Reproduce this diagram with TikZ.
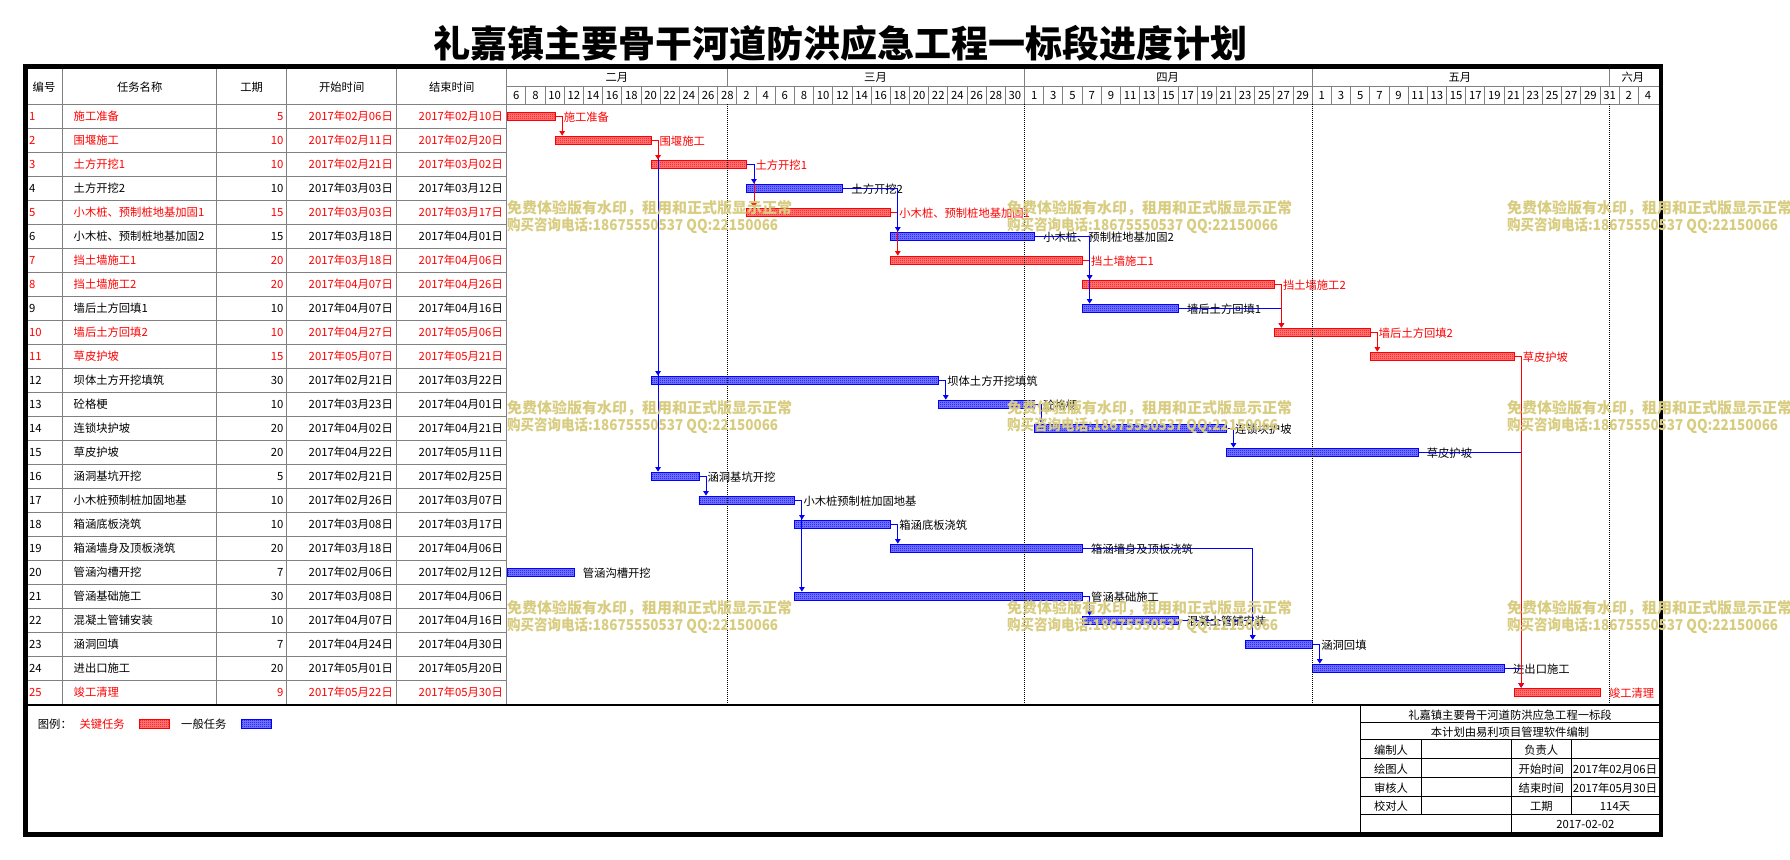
\documentclass[tikz,border=0pt]{standalone}
\usepackage{fontspec}
\setmainfont{Noto Sans CJK SC}
\newfontfamily\wmnarrow{Noto Sans CJK SC}[FakeStretch=0.9]
\usetikzlibrary{arrows.meta,patterns,calc}
\definecolor{wmcolor}{RGB}{216,204,128}
\pgfdeclarepatternformonly{fchecker}{\pgfqpoint{0pt}{0pt}}{\pgfqpoint{2pt}{2pt}}{\pgfqpoint{2pt}{2pt}}{%
  \pgfpathrectangle{\pgfqpoint{0pt}{0pt}}{\pgfqpoint{1pt}{1pt}}%
  \pgfpathrectangle{\pgfqpoint{1pt}{1pt}}{\pgfqpoint{1pt}{1pt}}%
  \pgfusepath{fill}}
\begin{document}
\begin{tikzpicture}
[x=1pt,y=-1pt,
 gridline/.style={draw=gray,line width=0.9pt},
 tbline/.style={draw=black,line width=0.8pt},
 cell/.style={inner sep=0pt,font=\fontsize{11.3}{13}\selectfont},
 taskbar/.style={rectangle,anchor=north west,inner sep=0pt,minimum height=8.7pt,line width=0.9pt},
 critbar/.style={taskbar,draw=red,fill=red!50,postaction={pattern=fchecker,pattern color=red}},
 normbar/.style={taskbar,draw=blue,fill=blue!50,postaction={pattern=fchecker,pattern color=blue}},
 linkline/.style={line width=0.9pt,-{Triangle[length=4.5pt,width=5.5pt]}},
 monthline/.style={line width=0.8pt,dash pattern=on 1pt off 1pt},
 wmark/.style={inner sep=0pt,anchor=west,text=wmcolor,font=\fontsize{15}{17}\selectfont\bfseries}]
\useasboundingbox (0,0) rectangle (1790,859);
%% title
\node[inner sep=0pt,font=\fontsize{37}{40}\selectfont\bfseries] (title) at (840,43.5) {礼嘉镇主要骨干河道防洪应急工程一标段进度计划};
%% table grid
\draw[gridline] (506.7,86) -- (1659,86);
\draw[gridline] (25,104.3) -- (1659,104.3);
\foreach \k in {1,...,24}
{
  \draw[gridline] (25,{104.3+24*\k}) -- (506.7,{104.3+24*\k});
}
\foreach \x in {62.7,216.7,286.7,396.7,506.7}
{
  \draw[gridline] (\x,69) -- (\x,705);
}
\foreach \d in {23,54,84,115}
{
  \draw[gridline] ({506.7+\d*9.59},69) -- ({506.7+\d*9.59},86);
}
\foreach \k in {1,...,59}
{
  \draw[gridline] ({506.7+2*\k*9.59},86) -- ({506.7+2*\k*9.59},104.3);
}
%% header
\foreach \lab/\x [count=\i] in {编号/44,任务名称/139.7,工期/251.7,开始时间/341.7,结束时间/451.7}
{
  \node[cell] (head\i) at (\x,87) {\lab};
}
\foreach \lab/\x [count=\i] in {二月/616.9,三月/875.5,四月/1167.7,五月/1459.9,六月/1632.9}
{
  \node[cell] (month\i) at (\x,77.5) {\lab};
}
\foreach \lab [count=\k from 0] in {6,8,10,12,14,16,18,20,22,24,26,28,2,4,6,8,10,12,14,16,18,20,22,24,26,28,30,1,3,5,7,9,11,13,15,17,19,21,23,25,27,29,1,3,5,7,9,11,13,15,17,19,21,23,25,27,29,31,2,4}
{
  \node[cell] (day\k) at ({506.7+(2*\k+1)*9.59},95.3) {\lab};
}
%% tasks
\foreach \n/\name/\dur/\sd/\ed/\s/\e/\bc/\tc in {
  1/施工准备/5/2017年02月06日/2017年02月10日/0/5/critbar/red,
  2/围堰施工/10/2017年02月11日/2017年02月20日/5/15/critbar/red,
  3/土方开挖1/10/2017年02月21日/2017年03月02日/15/25/critbar/red,
  4/土方开挖2/10/2017年03月03日/2017年03月12日/25/35/normbar/black,
  5/小木桩、预制桩地基加固1/15/2017年03月03日/2017年03月17日/25/40/critbar/red,
  6/小木桩、预制桩地基加固2/15/2017年03月18日/2017年04月01日/40/55/normbar/black,
  7/挡土墙施工1/20/2017年03月18日/2017年04月06日/40/60/critbar/red,
  8/挡土墙施工2/20/2017年04月07日/2017年04月26日/60/80/critbar/red,
  9/墙后土方回填1/10/2017年04月07日/2017年04月16日/60/70/normbar/black,
  10/墙后土方回填2/10/2017年04月27日/2017年05月06日/80/90/critbar/red,
  11/草皮护坡/15/2017年05月07日/2017年05月21日/90/105/critbar/red,
  12/坝体土方开挖填筑/30/2017年02月21日/2017年03月22日/15/45/normbar/black,
  13/砼格梗/10/2017年03月23日/2017年04月01日/45/55/normbar/black,
  14/连锁块护坡/20/2017年04月02日/2017年04月21日/55/75/normbar/black,
  15/草皮护坡/20/2017年04月22日/2017年05月11日/75/95/normbar/black,
  16/涵洞基坑开挖/5/2017年02月21日/2017年02月25日/15/20/normbar/black,
  17/小木桩预制桩加固地基/10/2017年02月26日/2017年03月07日/20/30/normbar/black,
  18/箱涵底板浇筑/10/2017年03月08日/2017年03月17日/30/40/normbar/black,
  19/箱涵墙身及顶板浇筑/20/2017年03月18日/2017年04月06日/40/60/normbar/black,
  20/管涵沟槽开挖/7/2017年02月06日/2017年02月12日/0/7/normbar/black,
  21/管涵基础施工/30/2017年03月08日/2017年04月06日/30/60/normbar/black,
  22/混凝土管铺安装/10/2017年04月07日/2017年04月16日/60/70/normbar/black,
  23/涵洞回填/7/2017年04月24日/2017年04月30日/77/84/normbar/black,
  24/进出口施工/20/2017年05月01日/2017年05月20日/84/104/normbar/black,
  25/竣工清理/9/2017年05月22日/2017年05月30日/105/114/critbar/red}
{
  \pgfmathsetmacro\ry{104.3+(\n-1)*24}
  \node[cell,text=\tc,anchor=west] (no\n) at (29,{\ry+12.3}) {\n};
  \node[cell,text=\tc,anchor=west] (nm\n) at (73.5,{\ry+12.3}) {\name};
  \node[cell,text=\tc,anchor=east] (du\n) at (283.5,{\ry+12.3}) {\dur};
  \node[cell,text=\tc,anchor=east] (st\n) at (393,{\ry+12.3}) {\sd};
  \node[cell,text=\tc,anchor=east] (en\n) at (503,{\ry+12.3}) {\ed};
  \node[\bc,minimum width={(\e-\s)*9.59pt}] (b\n) at ({506.7+\s*9.59},{\ry+7.3}) {};
  \node[cell,text=\tc,anchor=west] (lb\n) at ([xshift=8pt,yshift=-0.6pt]b\n.east) {\name};
}
%% month lines
\foreach \d in {23,54,84,115}
{
  \draw[monthline] ({506.7+\d*9.59},104.3) -- ({506.7+\d*9.59},705);
}
%% links
\foreach \p/\q/\cc in {2/16/blue,2/12/blue,2/3/red,1/2/red,3/5/red,3/4/blue,5/7/red,4/6/blue,
  7/8/red,6/9/blue,6/8/blue,9/10/blue,8/10/red,10/11/red,15/25/blue,24/25/blue,11/25/red,
  12/13/blue,13/14/blue,14/15/blue,16/17/blue,17/21/blue,17/18/blue,18/19/blue,
  19/23/blue,22/23/blue,21/22/blue,23/24/blue}
{
  \draw[linkline,\cc] (b\p.east) -| ($(b\q.north west)+(7.5,0)$);
}
%% legend
\draw[line width=1.5pt] (25,705) -- (1659,705);
\node[cell,anchor=west] (lgtitle) at (37.7,724.5) {图例：};
\node[cell,anchor=west,text=red] (lgcrittext) at (79.3,724.5) {关键任务};
\node[critbar,anchor=west,minimum width=29.7pt,minimum height=9.7pt] (lgcrit) at (139,724) {};
\node[cell,anchor=west] (lgnormtext) at (181,724.5) {一般任务};
\node[normbar,anchor=west,minimum width=29.7pt,minimum height=9.7pt] (lgnorm) at (241,724) {};
%% title block
\draw[tbline] (1360,705) -- (1360,834.5);
\foreach \ly in {722.5,739.5,758.3,777.3,796.3,814}
{
  \draw[tbline] (1360,\ly) -- (1659,\ly);
}
\draw[tbline] (1421.7,739.5) -- (1421.7,814);
\draw[tbline] (1511.7,739.5) -- (1511.7,834.5);
\draw[tbline] (1571,739.5) -- (1571,814);
\node[cell] (tbname) at (1510,715) {礼嘉镇主要骨干河道防洪应急工程一标段};
\node[cell] (tbsoft) at (1510,732) {本计划由易利项目管理软件编制};
\foreach \lab/\key/\val/\y [count=\i] in {编制人/负责人//750, 绘图人/开始时间/2017年02月06日/769, 审核人/结束时间/2017年05月30日/788, 校对人/工期/114天/806.5}
{
  \node[cell] (tbl\i) at (1391,\y) {\lab};
  \node[cell] (tbk\i) at (1541.3,\y) {\key};
  \node[cell] (tbv\i) at (1615,\y) {\val};
}
\node[cell] (tbdate) at (1585.3,824) {2017-02-02};
%% frame
\draw[line width=4.3pt] (25.5,66.4) rectangle (1661.3,834.5);
%% watermark
\foreach \wx in {507,1007,1507}
{
  \foreach \wy in {208,408,608}
  {
    \node[wmark] (wa-\wx-\wy) at (\wx,\wy) {免费体验版有水印，租用和正式版显示正常};
    \node[wmark] (wb-\wx-\wy) at (\wx,{\wy+17.7}) {\wmnarrow\bfseries 购买咨询电话:18675550537 QQ:22150066};
  }
}
\end{tikzpicture}
\end{document}
